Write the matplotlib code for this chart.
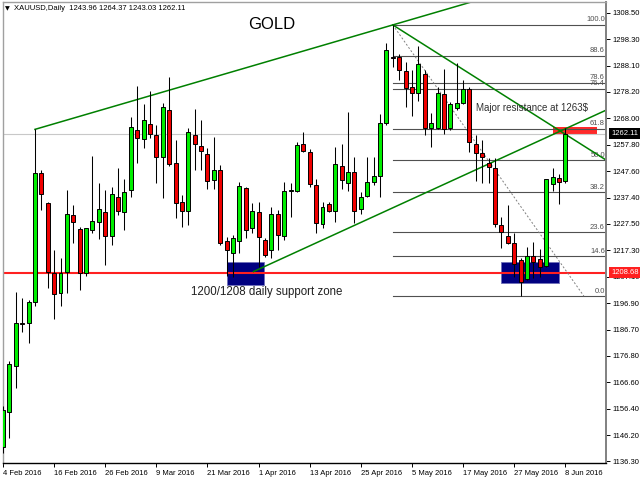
import matplotlib
matplotlib.use("Agg")
import matplotlib.pyplot as plt
from matplotlib.patches import Rectangle
import numpy as np

plt.rcParams['font.family'] = ['Liberation Sans', 'DejaVu Sans']

# XAUUSD daily bars, 4 Feb 2016 .. 8 Jun 2016
opens = [1141.9, 1155.1, 1173.0, 1189.3, 1189.5, 1197.6, 1247.1, 1235.6, 1208.7, 1200.8,
         1209.1, 1230.8, 1225.5, 1208.7, 1225.1, 1228.0, 1232.1, 1222.8, 1237.9, 1231.9,
         1240.4, 1263.5, 1259.9, 1265.7, 1261.6, 1253.0, 1271.1, 1250.7, 1235.9, 1232.5,
         1261.6, 1257.3, 1254.3, 1244.3, 1248.1, 1220.9, 1216.1, 1220.9, 1241.1, 1225.7,
         1232.1, 1221.2, 1217.4, 1231.2, 1222.8, 1240.0, 1240.2, 1258.0, 1255.1, 1242.4,
         1227.4, 1235.1, 1232.5, 1249.7, 1243.2, 1247.5, 1233.0, 1238.1, 1243.6, 1245.8,
         1266.3, 1291.6, 1291.4, 1286.2, 1279.9, 1277.8, 1285.0, 1264.1, 1264.1, 1277.3,
         1264.1, 1271.8, 1273.7, 1279.1, 1258.1, 1254.8, 1250.9, 1248.8, 1227.0, 1222.8,
         1220.2, 1213.6, 1206.2, 1215.1, 1213.8, 1211.3, 1242.7, 1244.9, 1243.96]
highs = [1157.5, 1174.8, 1201.4, 1199.1, 1198.2, 1263.7, 1248.1, 1236.0, 1217.4, 1214.2,
         1240.4, 1234.7, 1226.3, 1226.0, 1253.5, 1243.0, 1240.4, 1241.7, 1248.8, 1244.5,
         1268.6, 1280.4, 1273.5, 1278.6, 1265.4, 1273.7, 1283.9, 1259.6, 1238.5, 1264.1,
         1271.4, 1267.3, 1256.5, 1260.7, 1250.0, 1222.3, 1223.0, 1243.6, 1241.7, 1235.6,
         1236.0, 1222.0, 1233.8, 1232.8, 1243.6, 1243.0, 1259.0, 1262.8, 1256.0, 1244.5,
         1236.0, 1236.0, 1257.1, 1258.1, 1270.5, 1253.2, 1239.8, 1253.2, 1253.0, 1269.6,
         1297.0, 1303.8, 1292.5, 1289.7, 1286.5, 1295.7, 1286.5, 1269.9, 1279.9, 1286.8,
         1274.3, 1289.1, 1282.7, 1279.9, 1261.6, 1259.6, 1252.6, 1252.6, 1230.2, 1234.7,
         1223.8, 1214.2, 1218.4, 1220.6, 1217.7, 1244.8, 1248.8, 1246.6, 1264.37]
lows = [1139.6, 1145.4, 1164.3, 1185.8, 1181.8, 1195.9, 1232.8, 1202.7, 1190.9, 1195.9,
        1200.8, 1220.2, 1202.1, 1207.4, 1223.8, 1221.5, 1211.6, 1219.3, 1230.8, 1225.1,
        1237.9, 1250.7, 1256.5, 1260.3, 1243.2, 1237.3, 1249.7, 1229.6, 1226.1, 1227.0,
        1248.1, 1248.1, 1240.7, 1240.7, 1219.3, 1207.5, 1207.0, 1216.1, 1221.9, 1224.1,
        1211.0, 1214.8, 1214.3, 1217.4, 1221.2, 1230.2, 1239.5, 1255.0, 1241.7, 1224.1,
        1225.7, 1232.1, 1228.3, 1240.7, 1240.0, 1227.9, 1231.2, 1237.6, 1242.4, 1237.9,
        1265.4, 1287.8, 1282.7, 1272.2, 1268.8, 1274.7, 1261.6, 1257.1, 1263.7, 1262.0,
        1263.5, 1271.1, 1273.5, 1255.1, 1244.0, 1243.2, 1243.2, 1226.3, 1218.1, 1219.7,
        1206.9, 1199.7, 1206.0, 1206.5, 1206.9, 1211.0, 1240.2, 1235.1, 1243.03]
closes = [1156.0, 1173.5, 1189.3, 1188.8, 1197.3, 1246.8, 1238.8, 1209.1, 1200.5, 1208.7,
          1231.1, 1228.3, 1208.5, 1225.7, 1228.7, 1233.0, 1222.8, 1238.8, 1232.4, 1239.8,
          1264.5, 1260.3, 1267.3, 1261.8, 1253.2, 1272.2, 1250.4, 1235.3, 1232.5, 1262.5,
          1258.1, 1255.5, 1244.0, 1248.1, 1220.0, 1217.4, 1221.9, 1242.1, 1225.1, 1232.5,
          1222.5, 1215.5, 1231.2, 1223.2, 1240.2, 1240.4, 1257.7, 1255.5, 1242.7, 1227.9,
          1234.0, 1232.4, 1250.4, 1244.3, 1247.5, 1232.5, 1237.6, 1243.6, 1245.8, 1266.3,
          1294.3, 1291.2, 1286.5, 1279.5, 1277.8, 1288.8, 1264.1, 1266.0, 1277.6, 1263.7,
          1273.5, 1273.9, 1279.1, 1259.0, 1254.5, 1253.0, 1249.4, 1227.4, 1224.4, 1220.0,
          1212.0, 1205.2, 1215.1, 1212.9, 1211.0, 1244.5, 1245.3, 1243.6, 1262.11]

date_pos = [0, 8, 16, 24, 32, 40, 48, 56, 64, 72, 80, 88]
date_labels = ["4 Feb 2016", "16 Feb 2016", "26 Feb 2016", "9 Mar 2016", "21 Mar 2016",
               "1 Apr 2016", "13 Apr 2016", "25 Apr 2016", "5 May 2016", "17 May 2016",
               "27 May 2016", "8 Jun 2016"]
price_ticks = [1308.50, 1298.30, 1288.10, 1278.20, 1268.00, 1257.80, 1247.60, 1237.40,
               1227.50, 1217.30, 1207.10, 1196.90, 1186.70, 1176.80, 1166.60, 1156.40,
               1146.20, 1136.30]

# fibonacci retracement (high of 2 May -> low)
fib_high, fib_low = 1303.8, 1199.7
fib_levels = [0.0, 14.6, 23.6, 38.2, 50.0, 61.8, 76.4, 78.6, 88.6, 100.0]
fib_x = [61, 90.9]

# drawn objects: (bar, price) pairs
upper_trend = [(5, 1263.7), (61, 1303.8)]
lower_trend = [(39.2, 1209.1), (94.4, 1271.1)]
down_trend = [(61, 1303.8), (94.2, 1252.2)]
support_line = 1208.68
bid_price = 1262.11
support_box_a = (35.0, 40.9, 1204.0, 1212.7)
support_box_b = (78.0, 87.0, 1204.6, 1212.7)
resist_box = (86.0, 93.0, 1261.6, 1264.5)

GREEN = '#00ee00'
RED = '#f00000'
LINE_GREEN = '#008000'

# FIGURE ######################################################################

fig = plt.figure(figsize=(6.4, 4.8), dpi=100)
L, R, T, B = 2.5, 606, 2, 463.3
ax = fig.add_axes([L / 640, 1 - B / 480, (R - L) / 640, (B - T) / 480])
ax.set_xlim((L - 3) / 6.39, (R - 3) / 6.39)
ax.set_ylim(1135.5, 1312.6)

# boxes (behind candles)
for x0, x1, y0, y1 in (support_box_a, support_box_b):
    ax.add_patch(Rectangle((x0, y0), x1 - x0, y1 - y0, facecolor='#000080',
                           edgecolor='#7070b8', lw=0.6, zorder=1.5))
x0, x1, y0, y1 = resist_box
ax.add_patch(Rectangle((x0, y0), x1 - x0, y1 - y0, facecolor='#ff2a2a',
                       edgecolor='none', zorder=1.5))

ax.axhline(bid_price, color='#c8c8c8', lw=0.8, zorder=1.6)
ax.axhline(support_line, color='#ff2020', lw=1.5, zorder=2)

# fibonacci
for lev in fib_levels:
    y = fib_low + (fib_high - fib_low) * lev / 100.0
    ax.plot([fib_x[0], 200], [y, y], color='#505050', lw=0.8, zorder=2)
    ax.annotate(f'{lev:.1f}', xy=(94.2, y), xycoords='data', xytext=(0, 1.5),
                textcoords='offset pixels', ha='right', va='bottom', fontsize=5.5,
                color='#505050', zorder=2)
ax.plot(fib_x, [fib_high, fib_low], color='#808080', lw=0.7, ls=(0, (2, 2)), zorder=2)

# trend lines (rays)
for (xa, ya), (xb, yb) in (upper_trend, lower_trend, down_trend):
    slope = (yb - ya) / (xb - xa)
    ax.plot([xa, 200], [ya, ya + slope * (200 - xa)], color=LINE_GREEN, lw=1.1, zorder=2.5)

# candles
o, h, l, c = map(np.array, (opens, highs, lows, closes))
x = np.arange(len(o))
up = c >= o
ax.vlines(x, l, h, color='black', lw=0.75, zorder=3)
ax.bar(x[up], np.maximum((c - o)[up], 0.3), bottom=o[up], width=0.62, color=GREEN,
       edgecolor='black', lw=0.7, zorder=4)
ax.bar(x[~up], np.maximum((o - c)[~up], 0.3), bottom=c[~up], width=0.62, color=RED,
       edgecolor='black', lw=0.7, zorder=4)

# texts
ax.text(42.0, 1304.0, 'GOLD', fontsize=12, ha='center', va='center', color='black')
ax.text(29.4, 1201.1, '1200/1208 daily support zone', fontsize=8.3, ha='left',
        va='center', color='#202020')
ax.text(74.1, 1271.9, 'Major resistance at 1263$', fontsize=7, ha='left',
        va='center', color='#303030')

# axes styling
ax.yaxis.tick_right()
ax.set_yticks(price_ticks)
ax.set_yticklabels([f'{v:.2f}' for v in price_ticks])
ax.tick_params(axis='y', length=3, width=0.7, pad=2, labelsize=5.5)
ax.set_xticks(date_pos)
ax.set_xticklabels(date_labels)
for t in ax.get_xticklabels():
    t.set_ha('left')
ax.tick_params(axis='x', length=3, width=0.7, pad=2, labelsize=5.5)

for side, col, lw in (('left', '#a0a0a0', 1.0), ('top', '#a0a0a0', 1.0),
                      ('right', '#808080', 1.4), ('bottom', 'black', 1.0)):
    ax.spines[side].set_color(col)
    ax.spines[side].set_linewidth(lw)

# price markers on the axis
for price, bg in ((bid_price, 'black'), (support_line, '#ff2020')):
    ax.annotate(f'{price:.2f}', xy=(1, price), xycoords=ax.get_yaxis_transform(),
                xytext=(5, 0), textcoords='offset pixels', ha='left', va='center',
                fontsize=5.5, color='white', annotation_clip=False, zorder=10,
                bbox=dict(boxstyle='square,pad=0.3', fc=bg, ec='none'))

fig.text(5 / 640, 1 - 8.5 / 480, '\u25bc', fontsize=4.5, family='DejaVu Sans',
         va='center')
fig.text(14 / 640, 1 - 8.5 / 480, 'XAUUSD,Daily  1243.96 1264.37 1243.03 1262.11',
         fontsize=5.5, va='center')

plt.savefig('out.png', dpi=100)
